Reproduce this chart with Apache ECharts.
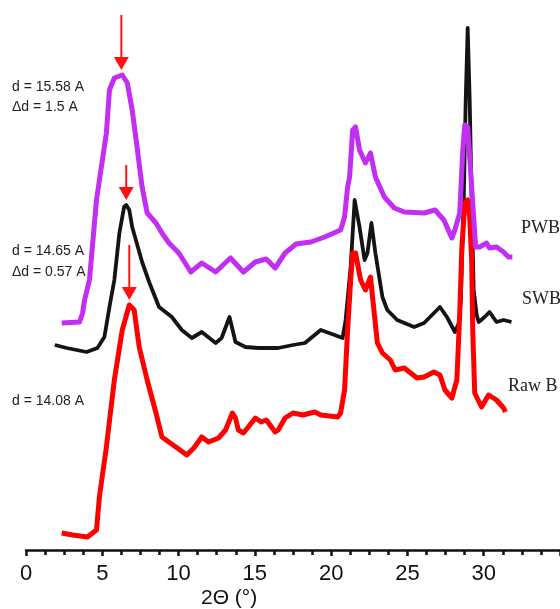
<!DOCTYPE html>
<html>
<head>
<meta charset="utf-8">
<script src="https://cdn.jsdelivr.net/npm/echarts@6/dist/echarts.min.js"></script>
<style>html,body{margin:0;padding:0;background:#fff;}#c{width:560px;height:609px;}</style>
</head>
<body>
<div id="c"></div>
<script>
// 2θ (deg) and relative intensity (arbitrary, vertically offset)
const pwb = [[2.34,227],[3.51,228],[3.71,237],[3.84,250],[4.16,270],[4.62,350],[5.27,417],[5.47,460],[5.79,472],[6.31,475],[6.64,467],[6.96,440],[7.22,410],[7.61,363],[7.94,337],[8.52,327],[8.91,317],[9.37,307],[10.02,297],[10.80,278],[11.52,287],[12.43,278],[13.40,292],[14.25,278],[15.03,288],[15.75,291],[16.33,282],[16.98,297],[17.70,306],[18.67,308],[19.58,313],[20.62,320],[20.88,333],[21.08,363],[21.21,373],[21.41,420],[21.60,423],[21.86,400],[22.25,387],[22.58,397],[22.90,373],[23.49,353],[24.14,342],[24.79,338],[26.09,337],[26.81,340],[27.39,330],[27.91,312],[28.11,320],[28.43,337],[28.63,400],[28.76,425],[28.95,423],[29.08,393],[29.34,333],[29.47,303],[29.73,303],[30.19,307],[30.38,302],[30.84,303],[31.30,298],[31.62,293],[31.88,293]];
const swb = [[1.89,205],[2.67,202],[3.97,198],[4.68,202],[5.14,213],[5.47,243],[5.79,270],[6.12,317],[6.43,343],[6.57,345],[6.77,340],[6.96,323],[7.61,288],[8.07,268],[8.72,243],[9.56,233],[10.21,220],[10.87,212],[11.52,218],[12.43,207],[12.82,212],[13.34,233],[13.73,208],[14.38,203],[15.22,202],[16.53,202],[17.50,205],[18.28,207],[19.32,220],[20.23,215],[20.75,212],[20.95,230],[21.28,283],[21.54,350],[21.86,323],[22.19,290],[22.38,297],[22.64,327],[22.90,297],[23.36,253],[23.68,240],[24.33,230],[25.44,223],[26.09,227],[26.74,237],[27.13,243],[27.59,233],[28.11,218],[28.37,227],[28.50,250],[28.69,350],[28.82,450],[28.95,522],[29.08,450],[29.21,350],[29.34,260],[29.54,235],[29.67,228],[30.06,233],[30.38,238],[30.84,228],[31.30,230],[31.82,228]];
const rawb = [[2.34,17],[3.06,15],[4.03,13],[4.62,20],[4.81,53],[5.27,103],[5.79,170],[6.31,220],[6.77,245],[7.09,240],[7.42,203],[7.94,170],[8.52,137],[8.91,113],[9.82,103],[10.54,95],[11.00,102],[11.52,113],[11.97,108],[12.62,112],[13.08,120],[13.53,137],[13.73,132],[13.92,120],[14.25,117],[14.57,123],[15.03,132],[15.42,128],[15.75,130],[16.33,118],[16.53,120],[16.98,132],[17.50,137],[18.15,135],[18.93,138],[19.32,135],[20.43,133],[20.62,137],[20.88,160],[21.08,220],[21.28,270],[21.41,297],[21.60,297],[21.93,270],[22.25,260],[22.58,273],[22.77,245],[23.03,207],[23.36,197],[23.88,190],[24.20,180],[24.79,182],[25.63,172],[26.09,173],[26.74,178],[27.13,175],[27.46,160],[27.91,152],[28.24,170],[28.43,237],[28.56,300],[28.76,347],[28.95,350],[29.08,333],[29.21,290],[29.28,220],[29.41,157],[29.86,143],[30.32,155],[30.84,150],[31.30,142],[31.42,138]];
// arrows: [x, start intensity, tip intensity]
const arrows = [[6.25,535,480],[6.57,385,350],[6.77,305,250]];
const xTicks = [0,5,10,15,20,25,30];

const chart = echarts.init(document.getElementById('c'));
chart.setOption({
  animation:false,
  backgroundColor:'#ffffff',
  grid:{left:26,right:-4,top:0,bottom:59},
  xAxis:{type:'value',min:0,max:35,interval:5,
    axisLine:{lineStyle:{color:'#111',width:2.5}},
    axisTick:{inside:false,length:6,lineStyle:{color:'#111',width:2.5}},
    minorTick:{show:true,splitNumber:4,length:5,lineStyle:{color:'#111',width:2.5}},
    splitLine:{show:false},
    axisLabel:{color:'#111',fontSize:22,fontFamily:'Liberation Sans, Arial, sans-serif',margin:13,showMaxLabel:false,
      formatter:v=>xTicks.indexOf(v)>=0?String(v):''}
  },
  yAxis:{type:'value',min:0,max:550,show:false},
  series:[
    {type:'line',name:'SWB',data:swb,symbol:'none',lineStyle:{color:'#141414',width:3.8,join:'round'},z:2},
    {type:'line',name:'Raw B',data:rawb,symbol:'none',lineStyle:{color:'#ff0000',width:5,join:'round'},z:3},
    {type:'line',name:'PWB',data:pwb,symbol:'none',lineStyle:{color:'#c22ef2',width:5,join:'round'},z:4},
    {type:'custom',data:arrows,z:5,
      renderItem:function(params,api){
        const s=api.coord([api.value(0),api.value(1)]);
        const t=api.coord([api.value(0),api.value(2)]);
        const h=13,w=7.5;
        return {type:'group',children:[
          {type:'line',shape:{x1:s[0],y1:s[1],x2:t[0],y2:t[1]-h+2},style:{stroke:'#ff1010',lineWidth:2}},
          {type:'polygon',shape:{points:[[t[0],t[1]],[t[0]-w,t[1]-h],[t[0]+w,t[1]-h]]},style:{fill:'#ff1010'}}
        ]};
      }}
  ],
  graphic:[
    {type:'text',left:12,top:80,style:{text:'d = 15.58 A',font:'14px "Liberation Sans", Arial, sans-serif',fill:'#222'}},
    {type:'text',left:12,top:100,style:{text:'\u0394d = 1.5 A',font:'14px "Liberation Sans", Arial, sans-serif',fill:'#222'}},
    {type:'text',left:12,top:244,style:{text:'d = 14.65 A',font:'14px "Liberation Sans", Arial, sans-serif',fill:'#222'}},
    {type:'text',left:12,top:265,style:{text:'\u0394d = 0.57 A',font:'14px "Liberation Sans", Arial, sans-serif',fill:'#222'}},
    {type:'text',left:12,top:394,style:{text:'d = 14.08 A',font:'14px "Liberation Sans", Arial, sans-serif',fill:'#222'}},
    {type:'text',left:521,top:219,style:{text:'PWB',font:'18px "Liberation Serif", "Times New Roman", serif',fill:'#222'}},
    {type:'text',left:522,top:290,style:{text:'SWB',font:'18px "Liberation Serif", "Times New Roman", serif',fill:'#222'}},
    {type:'text',left:508,top:377,style:{text:'Raw B',font:'18px "Liberation Serif", "Times New Roman", serif',fill:'#222'}},
    {type:'text',left:201,top:588,style:{text:'2\u0398 (\u00b0)',font:'21px "Liberation Sans", Arial, sans-serif',fill:'#111'}}
  ]
});
</script>
</body>
</html>
